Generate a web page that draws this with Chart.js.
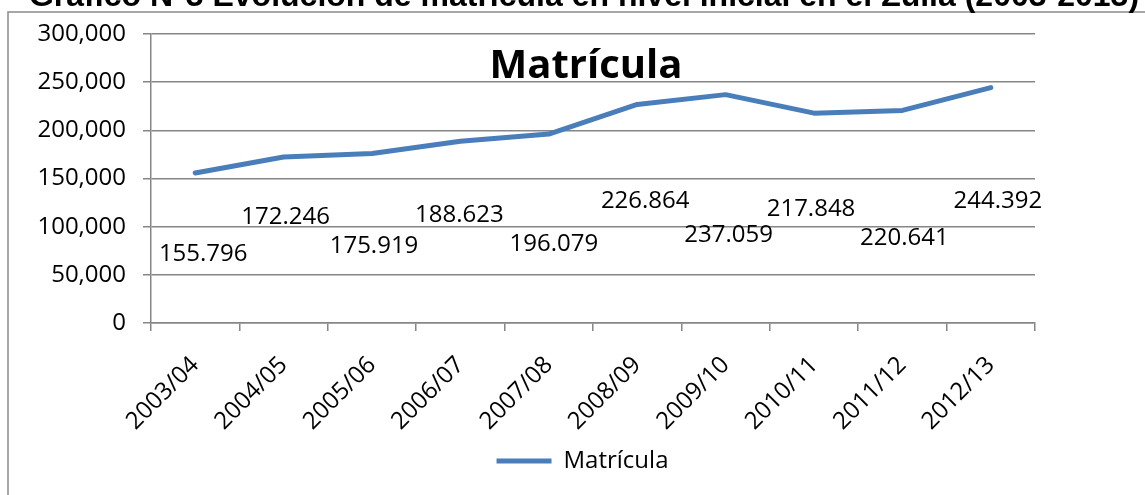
<!DOCTYPE html>
<html>
<head>
<meta charset="utf-8">
<script src="https://cdn.jsdelivr.net/npm/chart.js@4.4.1/dist/chart.umd.min.js"></script>
<style>
  html, body { margin: 0; padding: 0; background: #fff; }
  #wrap { width: 1145px; height: 495px; }
</style>
</head>
<body>
<div id="wrap"><canvas id="c" width="1145" height="495"></canvas></div>
<script>
// ---- data ----
const categories = ['2003/04', '2004/05', '2005/06', '2006/07', '2007/08', '2008/09', '2009/10', '2010/11', '2011/12', '2012/13'];
const matricula = [155796, 172246, 175919, 188623, 196079, 226864, 237059, 217848, 220641, 244392];
const seriesName = 'Matrícula';
const chartTitle = 'Matrícula';
const pageTitle = 'Gráfico N°3 Evolución de matrícula en nivel inicial en el Zulia (2003-2013)';
const yMin = 0, yMax = 300000, yStep = 50000;

// ---- layout of the value labels (pixel offsets from each point) ----
const labelDx = [8, 2, 2, -1, 5, 8, 3, -3, 2, 7];
const labelDy = [81, 60, 93, 74, 110, 97, 141, 96, 128, 114];

const GRID = '#868686';
const LINE = '#4A7EBB';
const FONT = "'Open Sans', 'Noto Sans', sans-serif";

function fmtComma(v) { return String(v).replace(/\B(?=(\d{3})+(?!\d))/g, ','); }
function fmtDot(v) { return String(v).replace(/\B(?=(\d{3})+(?!\d))/g, '.'); }

const decor = {
  id: 'decor',
  beforeDraw(chart) {
    const ctx = chart.ctx;
    ctx.save();
    ctx.fillStyle = '#fff';
    ctx.fillRect(0, 0, chart.width, chart.height);
    ctx.strokeStyle = '#8a8a8a';
    ctx.lineWidth = 1.5;
    ctx.beginPath();
    ctx.moveTo(chart.width + 5, 12);
    ctx.lineTo(8, 12);
    ctx.lineTo(8, chart.height + 5);
    ctx.stroke();
    ctx.restore();
  },
  afterDatasetsDraw(chart) {
    const ctx = chart.ctx;
    const meta = chart.getDatasetMeta(0);
    ctx.save();
    ctx.fillStyle = '#000';
    ctx.font = "24px " + FONT;
    ctx.textAlign = 'center';
    ctx.textBaseline = 'middle';
    meta.data.forEach((pt, i) => {
      ctx.fillText(fmtDot(matricula[i]), pt.x + labelDx[i], pt.y + labelDy[i]);
    });
    // chart title inside plot
    ctx.font = "bold 40px " + FONT;
    ctx.textBaseline = 'alphabetic';
    ctx.fillText(chartTitle, 586, 78);
    // page title, cut at the top
    ctx.font = "bold 32px 'Liberation Sans', Arial, sans-serif";
    ctx.fillText(pageTitle, 584, 6);
    ctx.restore();
  }
};

new Chart(document.getElementById('c'), {
  type: 'line',
  data: {
    labels: categories,
    datasets: [{
      label: seriesName,
      data: matricula,
      borderColor: LINE,
      backgroundColor: LINE,
      borderWidth: 5,
      borderCapStyle: 'round',
      borderJoinStyle: 'round',
      pointRadius: 0,
      pointHoverRadius: 0,
      tension: 0,
      fill: false
    }]
  },
  options: {
    responsive: false,
    animation: false,
    events: [],
    layout: { padding: { left: 20, right: 0, top: 34, bottom: 12 } },
    plugins: {
      legend: {
        display: true,
        position: 'bottom',
        labels: {
          usePointStyle: true,
          pointStyle: 'line',
          pointStyleWidth: 55,
          padding: 10,
          color: '#000',
          font: { family: FONT, size: 24 }
        }
      },
      title: { display: false },
      tooltip: { enabled: false }
    },
    scales: {
      x: {
        type: 'category',
        offset: true,
        grid: { offset: true, drawOnChartArea: false, drawTicks: true, tickLength: 8, color: GRID, lineWidth: 1.5 },
        border: { color: GRID, width: 1.5 },
        ticks: { autoSkip: false, minRotation: 45, maxRotation: 45, padding: 20, color: '#000', font: { family: FONT, size: 24 } },
        afterFit(s) { s.height = 116; }
      },
      y: {
        min: yMin,
        max: yMax,
        grid: { color: GRID, lineWidth: 1.5, drawTicks: true, tickLength: 8 },
        border: { color: GRID, width: 1.5 },
        ticks: { stepSize: yStep, padding: 17, color: '#000', font: { family: FONT, size: 24 }, callback: v => fmtComma(v) },
        afterFit(s) { s.width = 131; }
      },
      yR: {
        position: 'right',
        display: true,
        grid: { display: false },
        border: { display: false },
        ticks: { display: false },
        afterFit(s) { s.width = 110; }
      }
    }
  },
  plugins: [decor]
});
</script>
</body>
</html>
